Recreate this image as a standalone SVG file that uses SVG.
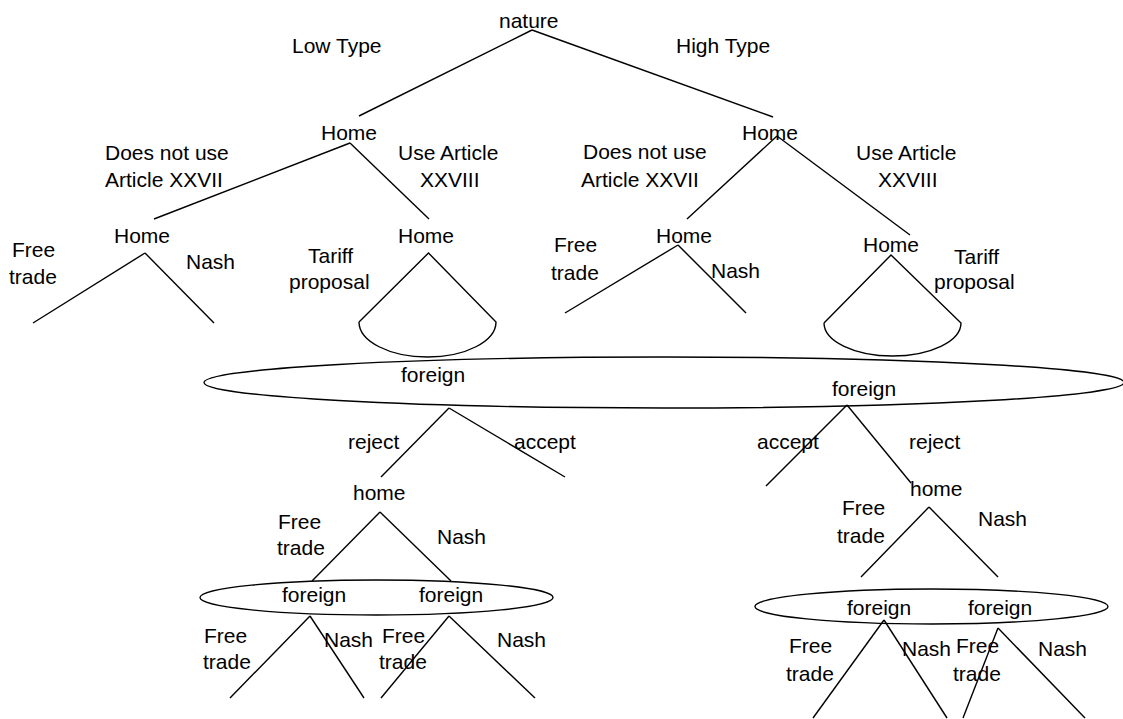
<svg xmlns="http://www.w3.org/2000/svg" width="1123" height="719" viewBox="0 0 1123 719">
<style>
text{font-family:"Liberation Sans",Arial,sans-serif;font-size:21px;fill:#000}
.e{fill:none;stroke:#000;stroke-width:1.4}
line,path{stroke:#000;stroke-width:1.4;fill:none}
</style>
<rect width="1123" height="719" fill="#fff"/>
<g id="connectors">
<line x1="532" y1="30" x2="359" y2="116"/>
<line x1="532" y1="30" x2="773" y2="117"/>
<line x1="350" y1="143" x2="154" y2="219"/>
<line x1="350" y1="143" x2="429" y2="219"/>
<line x1="777" y1="136" x2="687" y2="219"/>
<line x1="777" y1="136" x2="910" y2="235"/>
<line x1="145" y1="253" x2="33" y2="323"/>
<line x1="145" y1="253" x2="214" y2="323"/>
<line x1="678" y1="245" x2="565" y2="313"/>
<line x1="678" y1="245" x2="746" y2="313"/>
<path d="M359,322 L428.5,253 L496,322 A68.5,35 0 0 1 359,322"/>
<path d="M824,323 L891,255 L961,323 A68.5,33 0 0 1 824,323"/>
<line x1="449" y1="408" x2="381" y2="477"/>
<line x1="449" y1="408" x2="565" y2="477"/>
<line x1="847" y1="405" x2="766" y2="486"/>
<line x1="847" y1="405" x2="911" y2="483"/>
<line x1="380" y1="512" x2="312" y2="581"/>
<line x1="380" y1="512" x2="451" y2="581"/>
<line x1="929" y1="507" x2="861" y2="577"/>
<line x1="929" y1="507" x2="998" y2="577"/>
<line x1="310" y1="616" x2="230" y2="698"/>
<line x1="310" y1="616" x2="364" y2="698"/>
<line x1="449" y1="616" x2="381" y2="698"/>
<line x1="449" y1="616" x2="535" y2="698"/>
<line x1="884" y1="620" x2="813" y2="718"/>
<line x1="884" y1="620" x2="947" y2="718"/>
<line x1="998" y1="628" x2="963" y2="718"/>
<line x1="998" y1="628" x2="1085" y2="718"/>
</g>
<g id="infosets">
<ellipse class="e" cx="664" cy="382.5" rx="460" ry="25.5"/>
<ellipse class="e" cx="376.5" cy="597.5" rx="176.5" ry="17.5"/>
<ellipse class="e" cx="931.5" cy="606.5" rx="176.5" ry="17.5"/>
</g>
<g id="n-nature"><text x="499" y="28">nature</text></g>
<g id="lbl-top"><text x="292" y="53">Low Type</text><text x="676" y="53">High Type</text></g>
<g id="n-homeL"><text x="321" y="140">Home</text></g>
<g id="n-homeR"><text x="742" y="140">Home</text></g>
<g id="lbl-L1">
<text x="105" y="160">Does not use</text><text x="105" y="187">Article XXVII</text>
<text x="398" y="160">Use Article</text><text x="420" y="187">XXVIII</text>
</g>
<g id="lbl-R1">
<text x="583" y="159">Does not use</text><text x="581" y="187">Article XXVII</text>
<text x="856" y="160">Use Article</text><text x="878" y="187">XXVIII</text>
</g>
<g id="n-homeLL"><text x="114" y="243">Home</text><text x="12" y="257">Free</text><text x="9" y="284">trade</text><text x="186" y="269">Nash</text></g>
<g id="n-homeLR"><text x="398" y="243">Home</text><text x="308" y="263">Tariff</text><text x="289" y="289">proposal</text></g>
<g id="n-homeRL"><text x="656" y="243">Home</text><text x="554" y="252">Free</text><text x="551" y="280">trade</text><text x="711" y="278">Nash</text></g>
<g id="n-homeRR"><text x="863" y="252">Home</text><text x="954" y="264">Tariff</text><text x="934" y="289">proposal</text></g>
<g id="n-foreign1"><text x="401" y="382">foreign</text><text x="348" y="449">reject</text><text x="514" y="449">accept</text></g>
<g id="n-foreign2"><text x="832" y="396">foreign</text><text x="757" y="449">accept</text><text x="909" y="449">reject</text></g>
<g id="n-home3L"><text x="353" y="500">home</text><text x="278" y="529">Free</text><text x="277" y="555">trade</text><text x="437" y="544">Nash</text></g>
<g id="n-home3R"><text x="910" y="496">home</text><text x="842" y="515">Free</text><text x="837" y="543">trade</text><text x="978" y="526">Nash</text></g>
<g id="n-forLL"><text x="282" y="602">foreign</text><text x="204" y="643">Free</text><text x="203" y="669">trade</text><text x="324" y="647">Nash</text></g>
<g id="n-forLR"><text x="419" y="602">foreign</text><text x="382" y="643">Free</text><text x="379" y="669">trade</text><text x="497" y="647">Nash</text></g>
<g id="n-forRL"><text x="847" y="615">foreign</text><text x="789" y="653">Free</text><text x="786" y="681">trade</text><text x="902" y="656">Nash</text></g>
<g id="n-forRR"><text x="968" y="615">foreign</text><text x="956" y="653">Free</text><text x="953" y="681">trade</text><text x="1038" y="656">Nash</text></g>
</svg>
